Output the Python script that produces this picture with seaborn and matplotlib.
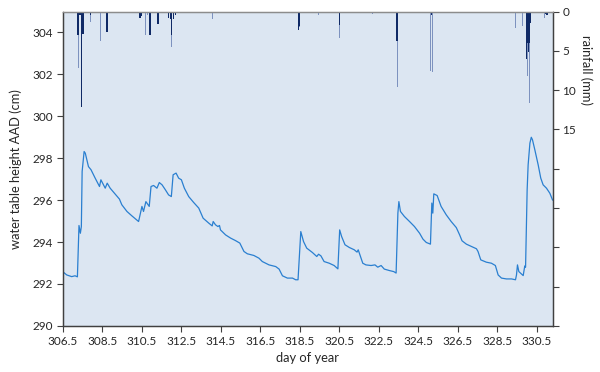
import numpy as np
import pandas as pd
import seaborn as sns
from matplotlib import pyplot as plt

# water table height (cm AAD)
day = [306.52, 306.69, 306.94, 307.11, 307.23, 307.31, 307.38, 307.43, 307.47, 307.57,
       307.63, 307.79, 307.92, 308.13, 308.35, 308.42, 308.55, 308.64, 308.74, 308.89,
       309.14, 309.36, 309.48, 309.74, 309.99, 310.33, 310.50, 310.58, 310.70, 310.81,
       310.87, 310.96, 311.09, 311.26, 311.38, 311.52, 311.69, 311.85, 311.99, 312.08,
       312.23, 312.36, 312.50, 312.65, 312.87, 313.12, 313.38, 313.60, 313.89, 314.06,
       314.11, 314.23, 314.35, 314.43, 314.48, 314.74, 314.99, 315.24, 315.46, 315.67,
       315.84, 316.17, 316.43, 316.60, 316.94, 317.28, 317.45, 317.62, 317.87, 318.13,
       318.29, 318.41, 318.55, 318.69, 318.85, 319.14, 319.36, 319.45, 319.57, 319.73,
       319.99, 320.24, 320.43, 320.52, 320.62, 320.79, 321.01, 321.26, 321.40, 321.46,
       321.69, 321.85, 322.11, 322.31, 322.45, 322.62, 322.78, 323.04, 323.26, 323.38,
       323.47, 323.52, 323.60, 323.80, 324.06, 324.31, 324.57, 324.74, 324.91, 325.12,
       325.19, 325.24, 325.29, 325.46, 325.66, 325.92, 326.17, 326.43, 326.60, 326.72,
       326.94, 327.19, 327.45, 327.53, 327.67, 327.95, 328.21, 328.41, 328.55, 328.72,
       328.97, 329.23, 329.43, 329.48, 329.53, 329.60, 329.82, 329.90, 329.94, 330.02,
       330.07, 330.16, 330.23, 330.29, 330.41, 330.58, 330.71, 330.83, 331.00, 331.17,
       331.31]
level = [292.56, 292.43, 292.35, 292.39, 292.34, 294.79, 294.42, 294.74, 297.37, 298.32,
         298.24, 297.60, 297.45, 297.05, 296.65, 296.97, 296.73, 296.57, 296.81, 296.57,
         296.29, 296.05, 295.78, 295.46, 295.25, 294.98, 295.70, 295.46, 295.93, 295.78,
         295.70, 296.65, 296.70, 296.57, 296.84, 296.73, 296.49, 296.25, 296.17, 297.21,
         297.29, 297.05, 296.97, 296.57, 296.17, 295.89, 295.62, 295.14, 294.90, 294.77,
         294.98, 294.82, 294.74, 294.79, 294.58, 294.34, 294.19, 294.07, 293.95, 293.55,
         293.44, 293.36, 293.23, 293.07, 292.91, 292.83, 292.71, 292.39, 292.28, 292.28,
         292.20, 292.20, 294.50, 294.02, 293.71, 293.50, 293.31, 293.42, 293.34, 293.07,
         292.99, 292.88, 292.72, 294.58, 294.26, 293.87, 293.74, 293.63, 293.52, 293.63,
         292.99, 292.91, 292.88, 292.91, 292.80, 292.88, 292.71, 292.64, 292.59, 292.52,
         295.38, 295.93, 295.46, 295.22, 294.98, 294.74, 294.42, 294.14, 293.98, 293.90,
         295.86, 295.38, 296.30, 296.22, 295.70, 295.30, 294.98, 294.69, 294.34, 294.06,
         293.90, 293.79, 293.68, 293.55, 293.15, 293.04, 292.99, 292.88, 292.43, 292.28,
         292.24, 292.24, 292.20, 292.43, 292.91, 292.59, 292.40, 292.86, 292.80, 296.49,
         297.68, 298.72, 299.00, 298.88, 298.40, 297.68, 297.05, 296.73, 296.57, 296.33,
         296.00]

# rainfall (mm), two records: dark and light bars
rain_dark_day = [307.26, 307.45, 307.52, 307.37, 307.89, 308.72, 310.40, 310.45, 310.91,
                 311.32, 311.85, 311.95, 312.01, 312.10, 312.20, 318.44, 318.47, 320.50,
                 323.42, 325.18, 330.00, 330.05, 330.10, 330.15, 330.20, 330.95, 331.02]
rain_dark = [3.0, 12.2, 2.8, 0.5, 0.4, 2.6, 0.85, 0.6, 3.0,
             1.6, 0.8, 1.0, 3.0, 0.9, 0.4, 2.3, 1.8, 1.7,
             3.8, 0.4, 6.1, 4.0, 5.1, 4.0, 1.5, 0.3, 0.4]
rain_light_day = [307.28, 307.87, 308.38, 310.66, 310.80, 312.01, 314.07, 318.50, 319.45,
                  320.52, 322.20, 322.40, 323.44, 325.13, 325.22, 329.45, 329.80, 330.06,
                  330.12, 330.90]
rain_light = [7.2, 1.3, 3.7, 3.0, 0.5, 4.45, 1.0, 2.0, 0.4,
              3.4, 0.3, 0.2, 9.6, 7.6, 7.7, 2.1, 1.9, 8.2,
              11.7, 0.85]

df = pd.DataFrame({"day": day, "level": level})

sns.set_theme(style="ticks")
plt.rcParams["font.family"] = ["Lato", "DejaVu Sans"]

fig = plt.figure(figsize=(6, 3.72), dpi=100)
ax = fig.add_axes([0.105, 0.124, 0.816, 0.845])
ax.set_facecolor("#dce6f2")

sns.lineplot(data=df, x="day", y="level", ax=ax, color="#2a7fd0", linewidth=0.9,
             estimator=None, sort=False)

ax.set_xlim(306.5, 331.31)
ax.set_ylim(290, 305)
ax.set_xticks(np.arange(306.5, 331, 2))
ax.set_xticklabels([f"{v:.1f}" for v in np.arange(306.5, 331, 2)])
ax.set_yticks(np.arange(290, 305, 2))
ax.set_xlabel("day of year", fontsize=9.3, labelpad=4)
ax.set_ylabel("water table height AAD (cm)", fontsize=9.3, labelpad=8)
ax.tick_params(labelsize=8.5, length=4, width=0.8, color="#404040", pad=3)

ax2 = ax.twinx()
ax2.bar(rain_light_day, rain_light, width=0.05, color="#7d92bf", linewidth=0)
ax2.bar(rain_dark_day, rain_dark, width=0.07, color="#102a66", linewidth=0)
ax2.set_ylim(40, 0)
ax2.set_yticks(np.arange(0, 41, 5))
ax2.set_yticklabels(["0", "5", "10", "15", "", "", "", "", ""])
ax2.set_ylabel("rainfall (mm)", fontsize=9.3, rotation=270, va="center")
ax2.yaxis.set_label_coords(1.068, 0.815)
ax2.tick_params(labelsize=8.5, length=4, width=0.8, color="#404040", pad=3)

for a in (ax, ax2):
    for s in a.spines.values():
        s.set_color("#404040")
        s.set_linewidth(0.9)
    a.spines["top"].set_color("#8c8c8c")

plt.savefig("out.png", dpi=100)
